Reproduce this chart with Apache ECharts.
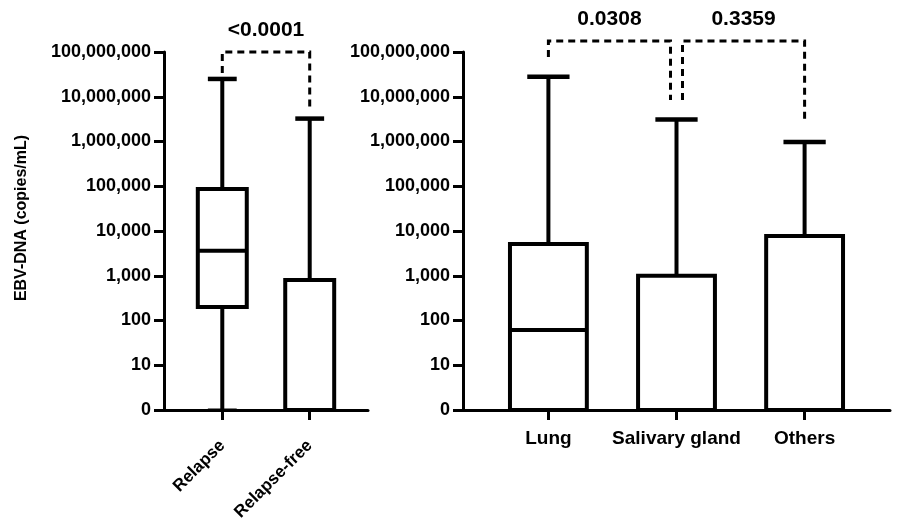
<!DOCTYPE html>
<html>
<head>
<meta charset="utf-8">
<script src="https://cdn.jsdelivr.net/npm/echarts@6/dist/echarts.min.js"></script>
<style>
  html, body { margin: 0; padding: 0; background: #fff; }
  #chart { width: 898px; height: 527px; }
</style>
</head>
<body>
<div id="chart"></div>
<script>
// y tick labels, indexed by decade (10^0 is drawn as "0")
const yTickLabels = ["0", "10", "100", "1,000", "10,000", "100,000", "1,000,000", "10,000,000", "100,000,000"];

// left panel: relapse vs relapse-free
const groupsA = ["Relapse", "Relapse-free"];
const minA = [1, 1];
const q1A = [200, 1];
const medA = [3600, 1];
const q3A = [87000, 800];
const maxA = [25000000, 3250000];

// right panel: site of relapse
const groupsB = ["Lung", "Salivary gland", "Others"];
const minB = [1, 1, 1];
const q1B = [1, 1, 1];
const medB = [61, 1, 1];
const q3B = [5100, 1000, 7700];
const maxB = [28000000, 3100000, 970000];

// significance brackets (group numbers are 1-based)
const pairsA = [[1, 2]];
const feetA = [[34000000, 5000000]];
const topsA = [100000000];
const pLabelsA = ["<0.0001"];

const pairsB = [[1, 2], [2, 3]];
const feetB = [[77000000, 8500000], [8500000, 2600000]];
const topsB = [177000000, 177000000];
const pLabelsB = ["0.0308", "0.3359"];

const FONT = "'Liberation Sans', Arial, sans-serif";
const CAP_W = 0.33;

function boxData(mins, q1s, meds, q3s, maxs) {
  return mins.map((m, i) => [i + 1, m, q1s[i], meds[i], q3s[i], maxs[i]]);
}

function bracketData(pairs, feet, tops) {
  return pairs.map((p, i) => [p[0], p[1], feet[i][0], feet[i][1], tops[i]]);
}

function seg(x1, y1, x2, y2, w) {
  return {
    type: "line",
    shape: { x1: x1, y1: y1, x2: x2, y2: y2 },
    style: { stroke: "#000", lineWidth: w || 4 }
  };
}

function makeBoxRender(boxW) {
  return function (params, api) {
    const x = api.value(0);
    const y = v => api.coord([x, v])[1];
    const px = u => api.coord([u, 1])[0];
    const cx = px(x);
    const bl = px(x - boxW / 2), br = px(x + boxW / 2);
    const cl = px(x - CAP_W / 2), cr = px(x + CAP_W / 2);
    const yMin = y(api.value(1)), yQ1 = y(api.value(2)), yMed = y(api.value(3));
    const yQ3 = y(api.value(4)), yMax = y(api.value(5));
    return {
      type: "group",
      children: [
        seg(cx, yQ3, cx, yMax),
        seg(cl, yMax, cr, yMax, 4.5),
        seg(cx, yMin, cx, yQ1),
        seg(cl, yMin, cr, yMin, 3),
        {
          type: "rect",
          shape: { x: bl, y: yQ3, width: br - bl, height: yQ1 - yQ3 },
          style: { fill: "#fff", stroke: "#000", lineWidth: 4 }
        },
        seg(bl, yMed, br, yMed)
      ]
    };
  };
}

function makeBracketRender(labels, nudges) {
  return function (params, api) {
    const i = params.dataIndex;
    const nd = nudges[i];
    const a = api.coord([api.value(0), api.value(2)]);
    const b = api.coord([api.value(1), api.value(3)]);
    const top = api.coord([api.value(0), api.value(4)])[1];
    const x1 = a[0] + nd[0], x2 = b[0] + nd[1];
    return {
      type: "group",
      children: [
        {
          type: "polyline",
          shape: { points: [[x1, a[1]], [x1, top], [x2, top], [x2, b[1]]] },
          style: { stroke: "#000", lineWidth: 3, lineDash: [7, 5], fill: null }
        },
        {
          type: "text",
          x: (x1 + x2) / 2,
          y: top - 22,
          style: {
            text: labels[i],
            fill: "#000",
            font: "bold 21px " + FONT,
            align: "center",
            verticalAlign: "middle"
          }
        }
      ]
    };
  };
}

function yAxisFor(gridIndex, withName) {
  const ax = {
    type: "log",
    logBase: 10,
    gridIndex: gridIndex,
    min: 1,
    max: 100000000,
    splitNumber: 8,
    axisLine: { show: true, onZero: false, lineStyle: { color: "#000", width: 3 } },
    axisTick: { show: true, length: 10, lineStyle: { color: "#000", width: 3 } },
    axisLabel: {
      margin: 13,
      color: "#000",
      fontFamily: FONT,
      fontWeight: "bold",
      fontSize: 18,
      formatter: v => yTickLabels[Math.round(Math.log10(v))]
    },
    splitLine: { show: false },
    minorTick: { show: false }
  };
  if (withName) {
    ax.name = "EBV-DNA (copies/mL)";
    ax.nameLocation = "middle";
    ax.nameGap = 134;
    ax.nameTextStyle = {
      color: "#000",
      fontFamily: FONT,
      fontWeight: "bold",
      fontSize: 16,
      padding: [0, 0, 0, 26]
    };
  }
  return ax;
}

function xAxisFor(gridIndex, groups, rotate, fontSize, margin) {
  const ticks = groups.map((g, i) => i + 1);
  return {
    type: "value",
    gridIndex: gridIndex,
    min: 1 / 3,
    max: groups.length + 2 / 3,
    axisLine: { show: true, onZero: false, lineStyle: { color: "#000", width: 3 } },
    axisTick: { show: true, length: 10, customValues: ticks, lineStyle: { color: "#000", width: 3 } },
    axisLabel: {
      customValues: ticks,
      rotate: rotate,
      margin: margin,
      color: "#000",
      fontFamily: FONT,
      fontWeight: "bold",
      fontSize: fontSize,
      formatter: v => groups[Math.round(v) - 1]
    },
    splitLine: { show: false }
  };
}

const chart = echarts.init(document.getElementById("chart"), null, { renderer: "canvas" });

chart.setOption({
  backgroundColor: "#fff",
  animation: false,
  grid: [
    { left: 164, top: 52, width: 204, height: 358, containLabel: false, outerBoundsMode: "none" },
    { left: 463, top: 52, width: 427, height: 358, containLabel: false, outerBoundsMode: "none" }
  ],
  xAxis: [
    xAxisFor(0, groupsA, 45, 17, 33),
    xAxisFor(1, groupsB, 0, 19, 19)
  ],
  yAxis: [
    yAxisFor(0, true),
    yAxisFor(1, false)
  ],
  series: [
    {
      type: "custom",
      xAxisIndex: 0,
      yAxisIndex: 0,
      renderItem: makeBoxRender(0.56),
      encode: { x: 0, y: [1, 2, 3, 4, 5] },
      data: boxData(minA, q1A, medA, q3A, maxA),
      clip: false,
      z: 3
    },
    {
      type: "custom",
      xAxisIndex: 1,
      yAxisIndex: 1,
      renderItem: makeBoxRender(0.6),
      encode: { x: 0, y: [1, 2, 3, 4, 5] },
      data: boxData(minB, q1B, medB, q3B, maxB),
      clip: false,
      z: 3
    },
    {
      type: "custom",
      xAxisIndex: 0,
      yAxisIndex: 0,
      renderItem: makeBracketRender(pLabelsA, [[0, 0]]),
      encode: { x: [0, 1], y: [2, 3, 4] },
      data: bracketData(pairsA, feetA, topsA),
      clip: false,
      z: 4
    },
    {
      type: "custom",
      xAxisIndex: 1,
      yAxisIndex: 1,
      renderItem: makeBracketRender(pLabelsB, [[0, -6], [6, 0]]),
      encode: { x: [0, 1], y: [2, 3, 4] },
      data: bracketData(pairsB, feetB, topsB),
      clip: false,
      z: 4
    }
  ]
});
</script>
</body>
</html>
